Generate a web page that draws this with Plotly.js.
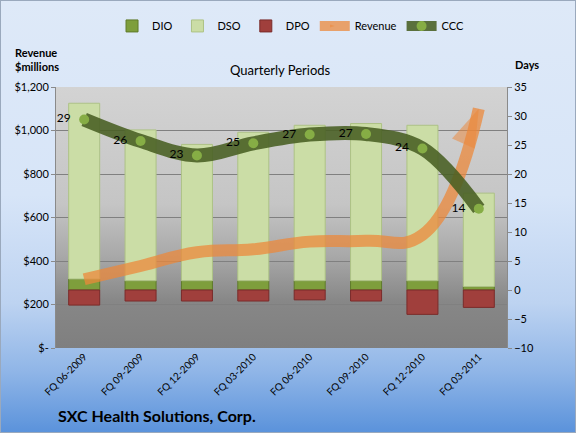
<!DOCTYPE html>
<html>
<head>
<meta charset="utf-8">
<script src="https://cdn.plot.ly/plotly-3.0.1.min.js"></script>
<style>
  html, body { margin: 0; padding: 0; }
  #chart {
    width: 576px; height: 433px;
    background: linear-gradient(to bottom, #dee9f8 0%, #d7e5f8 45%, #bdd3f1 70%, #8fb5e7 86%, #5a92db 100%);
    box-shadow: inset 0 0 0 1px #9aa9bd;
  }
</style>
</head>
<body>
<div id="chart"></div>
<script>
const categories = ['FQ 06-2009','FQ 09-2009','FQ 12-2009','FQ 03-2010','FQ 06-2010','FQ 09-2010','FQ 12-2010','FQ 03-2011'];
const dio = [1.9, 1.6, 1.6, 1.6, 1.6, 1.6, 1.6, 0.6];
const dso = [30.3, 26.0, 23.5, 25.6, 26.8, 27.1, 26.8, 16.1];
const dpo = [-2.6, -1.9, -1.9, -1.9, -1.7, -1.9, -4.2, -3.0];
const revenue = [316, 377, 440, 454, 489, 493, 520, 1100];
const ccc = [29.4, 25.7, 23.2, 25.3, 26.8, 26.9, 24.4, 14.0];
const revTickVals = [0, 200, 400, 600, 800, 1000, 1200];
const revTickText = ['$-', '$200', '$400', '$600', '$800', '$1,000', '$1,200'];
const daysRange = [-10, 35];

const FONT = 'Lato, "Open Sans", sans-serif';

const plotBg = 'data:image/svg+xml;charset=utf-8,' + encodeURIComponent(
  '<svg xmlns="http://www.w3.org/2000/svg" width="100" height="100" preserveAspectRatio="none">' +
  '<defs><linearGradient id="g" x1="0" y1="0" x2="0" y2="1">' +
  '<stop offset="0" stop-color="#d3d3d3"/><stop offset="0.45" stop-color="#c5c5c5"/>' +
  '<stop offset="0.65" stop-color="#a8a8a8"/><stop offset="0.82" stop-color="#878787"/>' +
  '<stop offset="1" stop-color="#7f7f7f"/></linearGradient></defs>' +
  '<rect width="100" height="100" fill="url(#g)"/></svg>');

const arrowSizes = revenue.map((v, i) => i === revenue.length - 1 ? 40 : 0);
const ORANGE = 'rgba(236,136,58,0.74)';

const traces = [
  { type: 'bar', name: 'DIO', x: categories, y: dio, yaxis: 'y',
    marker: { color: '#7e9e3c', line: { color: '#5f7a2a', width: 1 } } },
  { type: 'bar', name: 'DSO', x: categories, y: dso, yaxis: 'y',
    marker: { color: '#cbdda6', line: { color: '#adc285', width: 1 } } },
  { type: 'bar', name: 'DPO', x: categories, y: dpo, yaxis: 'y',
    marker: { color: '#a03f3c', line: { color: '#7a2b2a', width: 1 } } },
  { type: 'scatter', mode: 'lines+markers', name: 'Revenue', x: categories, y: revenue, yaxis: 'y2',
    line: { color: ORANGE, width: 12, shape: 'spline', smoothing: 1.3 },
    marker: { symbol: 'arrow', size: arrowSizes, angleref: 'previous', color: ORANGE, line: { width: 0 } } },
  { type: 'scatter', mode: 'lines+markers+text', name: 'CCC', x: categories, y: ccc, yaxis: 'y3',
    line: { color: 'rgba(72,94,34,0.88)', width: 14, shape: 'spline', smoothing: 1 },
    marker: { symbol: 'circle', size: 10, color: '#86ad45', line: { width: 0 } },
    text: ccc.map(v => String(Math.round(v))),
    texttemplate: '%{text}\u00a0\u00a0',
    textposition: 'middle left',
    textfont: { family: FONT, size: 12, color: '#000' } }
];

const layout = {
  width: 576, height: 433,
  margin: { l: 56, r: 69, t: 87, b: 85 },
  paper_bgcolor: 'rgba(0,0,0,0)',
  plot_bgcolor: 'rgba(0,0,0,0)',
  barmode: 'relative',
  bargap: 0.45,
  font: { family: FONT, size: 11, color: '#000' },
  showlegend: true,
  legend: { orientation: 'h', x: 0.52, xanchor: 'center', y: 1.234, yanchor: 'middle',
            font: { family: FONT, size: 11, color: '#000' }, bgcolor: 'rgba(0,0,0,0)' },
  xaxis: { type: 'category', range: [-0.5, categories.length - 0.5], autorange: false,
           tickangle: -45, tickfont: { family: FONT, size: 10 },
           showgrid: false, zeroline: false, showline: false, ticks: '' },
  yaxis: { range: daysRange, dtick: 5, side: 'right',
           showgrid: false, zeroline: false, showline: true, linecolor: '#8a8a8a',
           ticks: 'outside', ticklen: 4, tickcolor: '#8a8a8a', tickfont: { family: FONT, size: 11 } },
  yaxis2: { range: [0, 1200], tickvals: revTickVals, ticktext: revTickText, overlaying: 'y', side: 'left',
            showgrid: true, gridcolor: '#808080', gridwidth: 1, zeroline: false,
            showline: true, linecolor: '#8a8a8a', ticks: 'outside', ticklen: 4, tickcolor: '#8a8a8a',
            tickfont: { family: FONT, size: 11 } },
  yaxis3: { range: daysRange, overlaying: 'y', side: 'right', visible: false,
            showgrid: false, zeroline: false },
  images: [{ source: plotBg, xref: 'paper', yref: 'paper', x: 0, y: 1, sizex: 1, sizey: 1,
             xanchor: 'left', yanchor: 'top', sizing: 'stretch', layer: 'below' }],
  annotations: [
    { text: '<b>Revenue<br>$millions</b>', xref: 'paper', yref: 'paper', x: -0.042, y: 1.107,
      xanchor: 'center', yanchor: 'middle', showarrow: false, align: 'left',
      font: { family: FONT, size: 11, color: '#000' } },
    { text: '<b>Days</b>', xref: 'paper', yref: 'paper', x: 1.044, y: 1.088,
      xanchor: 'center', yanchor: 'middle', showarrow: false,
      font: { family: FONT, size: 11, color: '#000' } },
    { text: 'Quarterly Periods', xref: 'paper', yref: 'paper', x: 0.497, y: 1.065,
      xanchor: 'center', yanchor: 'middle', showarrow: false,
      font: { family: FONT, size: 13, color: '#000' } },
    { text: '<b>SXC Health Solutions, Corp.</b>', xref: 'paper', yref: 'paper', x: 0.0, y: -0.257,
      xanchor: 'left', yanchor: 'middle', showarrow: false,
      font: { family: FONT, size: 16, color: '#000' } }
  ]
};

Plotly.newPlot('chart', traces, layout, { displayModeBar: false, staticPlot: true });
</script>
</body>
</html>
